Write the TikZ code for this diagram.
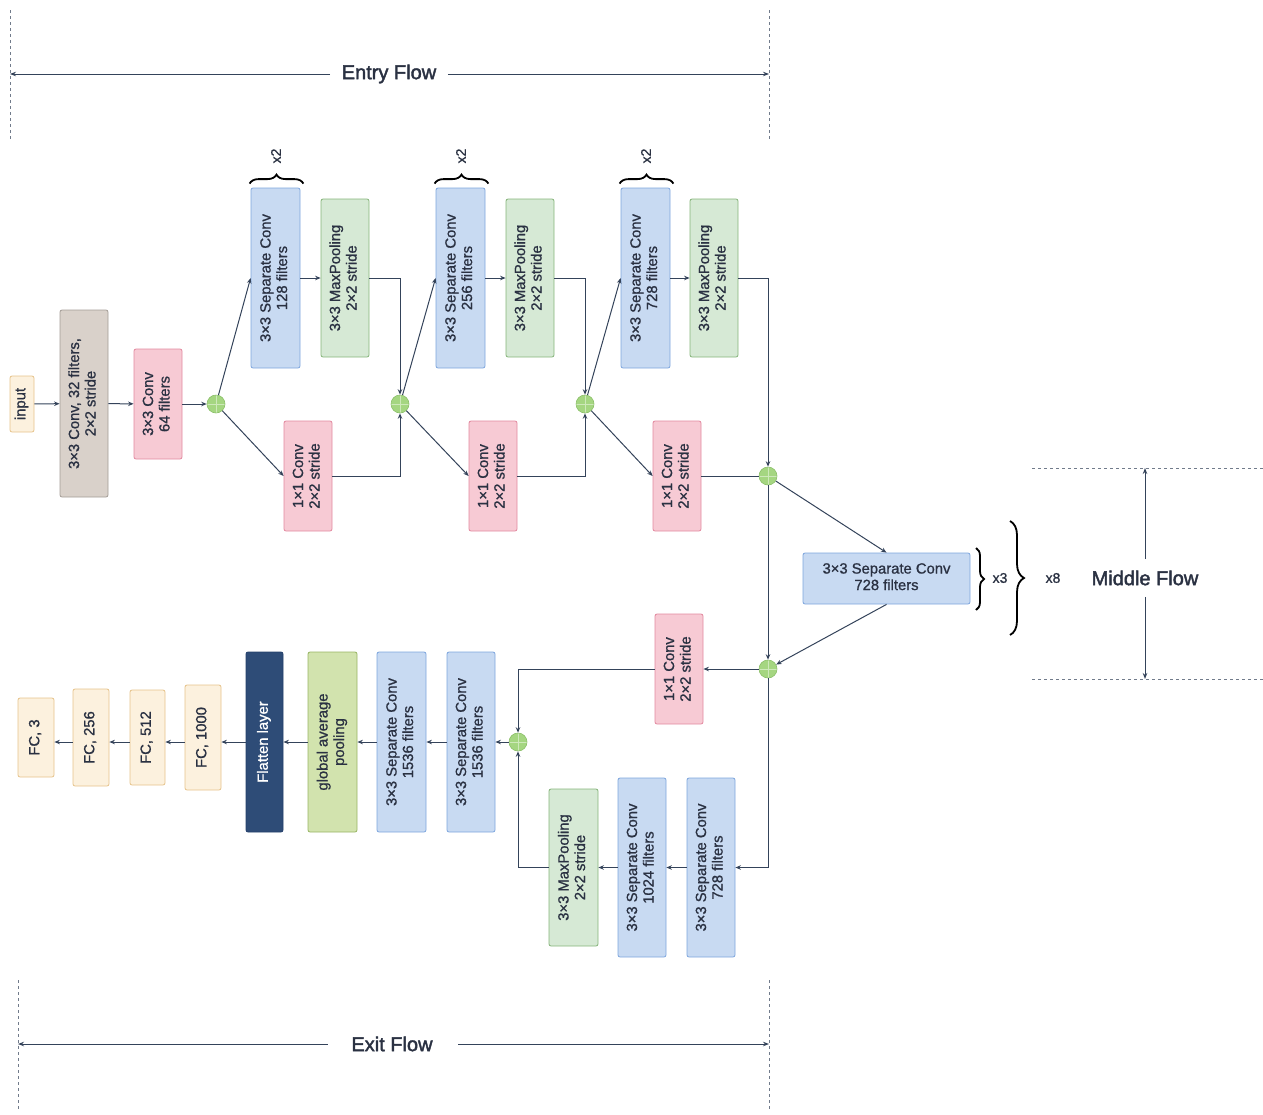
\documentclass[tikz,border=0pt]{standalone}
\usepackage{fontspec}
\setmainfont{Liberation Sans}
\newfontfamily\medfont{Liberation Sans}[FakeBold=1]
\newfontfamily\headfont{Liberation Sans}[FakeBold=2]
\usetikzlibrary{arrows.meta,decorations.pathreplacing,calc}
\definecolor{txt}{HTML}{2A3142}
\definecolor{ln}{HTML}{34435A}
\definecolor{bluef}{HTML}{C8DAF2}\definecolor{blued}{HTML}{7EA6DE}
\definecolor{grnf}{HTML}{D6E9D5}\definecolor{grnd}{HTML}{86B47A}
\definecolor{pnkf}{HTML}{F7CAD4}\definecolor{pnkd}{HTML}{E2899F}
\definecolor{taupef}{HTML}{D9D1CA}\definecolor{tauped}{HTML}{A39C96}
\definecolor{crmf}{HTML}{FCF1DE}\definecolor{crmd}{HTML}{E6C38B}
\definecolor{gapf}{HTML}{D2E3AE}\definecolor{gapd}{HTML}{98B564}
\definecolor{flf}{HTML}{2E4C77}\definecolor{fld}{HTML}{24406A}
\definecolor{plf}{HTML}{A5D681}\definecolor{pld}{HTML}{8CC06A}
\newcommand{\rt}[1]{\rotatebox{90}{\begin{tabular}{@{}c@{}}#1\end{tabular}}}
\begin{document}
\begin{tikzpicture}[x=1pt,y=-1pt,
  box/.style={draw, rounded corners=2pt, line width=0.8pt, inner sep=0pt, text=txt,
    font=\medfont\fontsize{14.8}{16.5}\selectfont},
  bluebox/.style={box, fill=bluef, draw=blued},
  grnbox/.style={box, fill=grnf, draw=grnd},
  pnkbox/.style={box, fill=pnkf, draw=pnkd},
  taupebox/.style={box, fill=taupef, draw=tauped},
  crmbox/.style={box, fill=crmf, draw=crmd},
  gapbox/.style={box, fill=gapf, draw=gapd},
  flbox/.style={box, fill=flf, draw=fld, text=white},
  sz/.style 2 args={minimum width=#1, minimum height=#2},
  plus/.style={circle, fill=plf, draw=pld, line width=0.6pt, minimum size=18pt, inner sep=0pt,
    path picture={\draw[white!45!plf, line width=0.7pt]
      (path picture bounding box.north) -- (path picture bounding box.south)
      (path picture bounding box.west) -- (path picture bounding box.east);}},
  arr/.style={draw=ln, line width=1pt, -{Stealth[length=5.5pt,width=4.5pt]}},
  lin/.style={draw=ln, line width=1pt},
  harr/.style={draw=ln, line width=1pt, -{Stealth[length=6pt,width=4.5pt]}},
  dsh/.style={draw=ln!70, line width=0.7pt, dash pattern=on 3pt off 3pt},
  brc/.style={draw=black, line width=1.8pt, decorate, decoration={brace, amplitude=#1}},
  lbl/.style={text=txt, font=\medfont\fontsize{14}{16}\selectfont},
  head/.style={text=txt, font=\headfont\fontsize{20}{24}\selectfont}
]
\useasboundingbox (0,0) rectangle (1263,1114);
% ---------- Entry flow ----------
\node[crmbox, sz={24}{56}] (in) at (22,404) {\rt{input}};
\node[taupebox, sz={48}{187}] (c32) at (84,403.5) {\rt{3×3 Conv, 32 filters,\\2×2 stride}};
\node[pnkbox, sz={48}{110}] (c64) at (158,404) {\rt{3×3 Conv\\64 filters}};
\node[plus] (p1) at (216,404) {};
\node[bluebox, sz={49}{180}] (s1) at (275.5,278) {\rt{3×3 Separate Conv\\128 filters}};
\node[grnbox, sz={48}{158}] (m1) at (345,278) {\rt{3×3 MaxPooling\\2×2 stride}};
\node[pnkbox, sz={48}{110}] (k1) at (308,476) {\rt{1×1 Conv\\2×2 stride}};
\node[plus] (p2) at (400,404) {};
\node[bluebox, sz={49}{180}] (s2) at (460.5,278) {\rt{3×3 Separate Conv\\256 filters}};
\node[grnbox, sz={48}{158}] (m2) at (530,278) {\rt{3×3 MaxPooling\\2×2 stride}};
\node[pnkbox, sz={48}{110}] (k2) at (493,476) {\rt{1×1 Conv\\2×2 stride}};
\node[plus] (p3) at (585,404) {};
\node[bluebox, sz={49}{180}] (s3) at (645.5,278) {\rt{3×3 Separate Conv\\728 filters}};
\node[grnbox, sz={48}{158}] (m3) at (714,278) {\rt{3×3 MaxPooling\\2×2 stride}};
\node[pnkbox, sz={48}{110}] (k3) at (677,476) {\rt{1×1 Conv\\2×2 stride}};
\node[plus] (p4) at (768,476) {};
% braces x2
\foreach \s in {s1,s2,s3}{
  \draw[brc=9pt] ($(\s.north west)+(-1,-4)$) -- ($(\s.north east)+(3,-4)$);
}
\node[lbl, rotate=90] (x2a) at (276,156) {x2};
\node[lbl, rotate=90] (x2b) at (461,156) {x2};
\node[lbl, rotate=90] (x2c) at (646,156) {x2};
% entry connections
\draw[arr] (in) -- (c32);
\draw[arr] (c32) -- (c64);
\draw[arr] (c64) -- (p1);
\draw[arr] (p1) -- (s1.west);
\draw[arr] (p1) -- (k1.west);
\draw[arr] (s1) -- (m1);
\draw[arr] (m1.east) -| (p2);
\draw[arr] (k1.east) -| (p2);
\draw[arr] (p2) -- (s2.west);
\draw[arr] (p2) -- (k2.west);
\draw[arr] (s2) -- (m2);
\draw[arr] (m2.east) -| (p3);
\draw[arr] (k2.east) -| (p3);
\draw[arr] (p3) -- (s3.west);
\draw[arr] (p3) -- (k3.west);
\draw[arr] (s3) -- (m3);
\draw[arr] (m3.east) -| (p4);
\draw[lin] (k3.east) -- (p4);
% ---------- Middle flow ----------
\node[bluebox, sz={167}{51}] (mid) at (886.5,578.5) {\begin{tabular}{@{}c@{}}3×3 Separate Conv\\728 filters\end{tabular}};
\node[plus] (p5) at (768,669) {};
\draw[arr] (p4) -- (mid.north);
\draw[arr] (mid.south) -- (p5);
\draw[arr] (p4) -- (p5);
\draw[brc=8pt] (976,548) -- (976,610);
\node[lbl] (x3) at (1000,578) {x3};
\draw[brc=14pt] (1010,521) -- (1010,635);
\node[lbl] (x8) at (1053,578) {x8};
\node[head] (mf) at (1145,578) {Middle Flow};
\coordinate (mft) at (1145,468);
\coordinate (mfb) at (1145,679);
\draw[harr] ($(mf.north)+(0,-8)$) -- (mft);
\draw[harr] ($(mf.south)+(0,8)$) -- (mfb);
\draw[dsh] (1032,468) -- (1263,468);
\draw[dsh] (1032,679) -- (1263,679);
% ---------- Exit flow ----------
\node[pnkbox, sz={48}{110}] (ek) at (679,669) {\rt{1×1 Conv\\2×2 stride}};
\node[plus] (p6) at (518,742) {};
\node[bluebox, sz={48}{179}] (e1) at (711,867.5) {\rt{3×3 Separate Conv\\728 filters}};
\node[bluebox, sz={48}{179}] (e2) at (642,867.5) {\rt{3×3 Separate Conv\\1024 filters}};
\node[grnbox, sz={49}{157}] (e3) at (573.5,867.5) {\rt{3×3 MaxPooling\\2×2 stride}};
\node[bluebox, sz={48}{180}] (e4) at (471,742) {\rt{3×3 Separate Conv\\1536 filters}};
\node[bluebox, sz={49}{180}] (e5) at (401.5,742) {\rt{3×3 Separate Conv\\1536 filters}};
\node[gapbox, sz={49}{180}] (gp) at (332.5,742) {\rt{global average\\pooling}};
\node[flbox, sz={37}{180}] (fl) at (264.5,742) {\rt{Flatten layer}};
\node[crmbox, sz={36}{105}] (f1) at (203,737.5) {\rt{FC, 1000}};
\node[crmbox, sz={35}{95}] (f2) at (147.5,737.5) {\rt{FC, 512}};
\node[crmbox, sz={36}{97}] (f3) at (91,737.5) {\rt{FC, 256}};
\node[crmbox, sz={36}{79}] (f4) at (36,737.5) {\rt{FC, 3}};
\draw[arr] (p5) -- (ek.east);
\draw[arr] (ek.west) -| (p6);
\draw[arr] (p5) |- (e1.east);
\draw[arr] (e1) -- (e2);
\draw[arr] (e2) -- (e3);
\draw[arr] (e3.west) -| (p6);
\draw[arr] (p6) -- (e4);
\draw[arr] (e4) -- (e5);
\draw[arr] (e5) -- (gp);
\draw[arr] (gp) -- (fl);
\draw[arr] (fl.west) -- (fl.west -| f1.east);
\draw[arr] (f1.west |- fl.west) -- (fl.west -| f2.east);
\draw[arr] (f2.west |- fl.west) -- (fl.west -| f3.east);
\draw[arr] (f3.west |- fl.west) -- (fl.west -| f4.east);
% ---------- Flow labels ----------
\draw[dsh] (10,10) -- (10,140);
\draw[dsh] (769,10) -- (769,140);
\coordinate (enl) at (10,74);
\coordinate (enr) at (769,74);
\node[head] (en) at (389,74) {Entry Flow};
\draw[harr] ($(en.west)+(-8,0)$) -- (enl);
\draw[harr] ($(en.east)+(8,0)$) -- (enr);
\draw[dsh] (18,980) -- (18,1110);
\draw[dsh] (769,980) -- (769,1110);
\coordinate (exl) at (18,1044);
\coordinate (exr) at (769,1044);
\node[head] (ex) at (392,1044) {Exit Flow};
\draw[harr] ($(ex.west)+(-20,0)$) -- (exl);
\draw[harr] ($(ex.east)+(22,0)$) -- (exr);
\end{tikzpicture}
\end{document}
